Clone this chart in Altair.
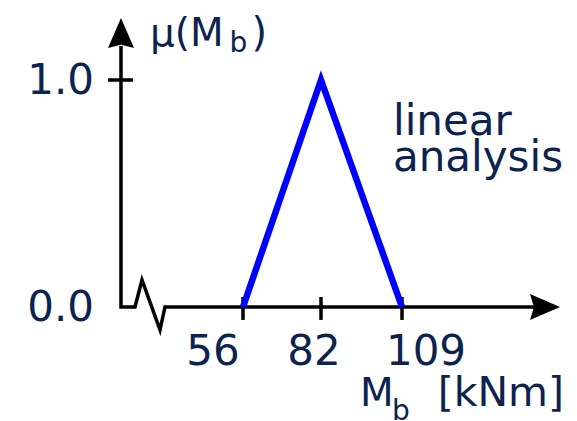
import altair as alt
import pandas as pd

# Triangular membership function of the bending moment M_b (linear analysis)
mb_values = [56, 82, 109]
mu_values = [0.0, 1.0, 0.0]

# Axis ticks and their labels
x_ticks = [56, 82, 109]
x_tick_labels = ["56", "82", "109"]
y_ticks = [1.0]
y_label_values = [0.0, 1.0]
y_tick_labels = ["0.0", "1.0"]

annotation_lines = ["linear", "analysis"]

NAVY = "#0c2350"
BLUE = "#0000ff"
FONT = "DejaVu Sans"

W, H = 577, 421
xs = alt.Scale(domain=[-25, 167.333], nice=False, zero=False)
ys = alt.Scale(domain=[-0.5022, 1.3524], nice=False, zero=False)

# Axis geometry (data units)
Y_AXIS_X = 15.33
X_AXIS_END = 153.0
Y_AXIS_TOP = 1.15


def X(field="x", **kw):
    return alt.X(field, type="quantitative", scale=xs, axis=None, **kw)


def Y(field="y", **kw):
    return alt.Y(field, type="quantitative", scale=ys, axis=None, **kw)


# Axes drawn as one polyline: y axis down to the origin, then the x axis
# with a break zig-zag near the origin
axis_df = pd.DataFrame({
    "x": [Y_AXIS_X, Y_AXIS_X, 20.0, 22.33, 28.33, 30.0, X_AXIS_END],
    "y": [Y_AXIS_TOP, 0.0, 0.0, 0.119, -0.101, 0.0, 0.0],
    "o": list(range(7)),
})
axis_line = alt.Chart(axis_df).mark_line(
    color="black", strokeWidth=3.5, strokeJoin="miter", strokeCap="butt"
).encode(x=X(), y=Y(), order="o:Q")

# Arrow heads
up_arrow_df = pd.DataFrame({
    "x": [Y_AXIS_X - 4.33, Y_AXIS_X, Y_AXIS_X + 4.33],
    "y": [1.141, 1.273, 1.141],
    "y2": [1.141, 1.155, 1.141],
})
up_arrow = alt.Chart(up_arrow_df).mark_area(color="black", interpolate="linear").encode(
    x=X(), y=Y(), y2="y2:Q"
)

right_arrow_df = pd.DataFrame({
    "y": [-0.057, 0.0, 0.057],
    "x": [151.67, 161.67, 151.67],
    "x2": [151.67, 153.0, 151.67],
})
right_arrow = alt.Chart(right_arrow_df).mark_area(
    color="black", interpolate="linear", orient="horizontal"
).encode(x=X(), x2="x2:Q", y=Y())

# Tick marks
x_tick_df = pd.DataFrame({"x": x_ticks, "y": [0.044] * len(x_ticks), "y2": [-0.057] * len(x_ticks)})
x_tick_marks = alt.Chart(x_tick_df).mark_rule(color="black", strokeWidth=3.5).encode(
    x=X(), y=Y(), y2="y2:Q"
)
y_tick_df = pd.DataFrame({"y": y_ticks, "x": [11.0] * len(y_ticks), "x2": [19.33] * len(y_ticks)})
y_tick_marks = alt.Chart(y_tick_df).mark_rule(color="black", strokeWidth=3.5).encode(
    x=X(), x2="x2:Q", y=Y()
)

# Membership function
mf_df = pd.DataFrame({"x": mb_values, "y": mu_values, "o": list(range(len(mb_values)))})
mf_line = alt.Chart(mf_df).mark_line(
    color=BLUE, strokeWidth=6.5, strokeJoin="miter", strokeCap="butt"
).encode(x=X(), y=Y(), order="o:Q")

# Y tick labels
y_lab_df = pd.DataFrame({"y": y_label_values, "t": y_tick_labels, "x": [Y_AXIS_X] * len(y_label_values)})
y_labels = alt.Chart(y_lab_df).mark_text(
    font=FONT, fontSize=42, color=NAVY, align="right", baseline="alphabetic", dx=-27, dy=14
).encode(x=X(), y=Y(), text="t:N")

# X tick labels, each nudged horizontally
label_nudge = {56: -30, 82: -7, 109: 24}
x_label_layers = []
for v, t in zip(x_ticks, x_tick_labels):
    d = pd.DataFrame({"x": [v], "y": [0.0], "t": [t]})
    x_label_layers.append(
        alt.Chart(d).mark_text(
            font=FONT, fontSize=42, color=NAVY, align="center", baseline="alphabetic",
            dx=label_nudge[v], dy=58
        ).encode(x=X(), y=Y(), text="t:N")
    )

# Annotation, one text per line
ann_df = pd.DataFrame({
    "x": [106.0] * len(annotation_lines),
    "y": [0.758 - 0.158 * i for i in range(len(annotation_lines))],
    "t": annotation_lines,
})
annotation = alt.Chart(ann_df).mark_text(
    font=FONT, fontSize=42, color=NAVY, align="left", baseline="alphabetic"
).encode(x=X(), y=Y(), text="t:N")


def text_layer(x, y, t, size, align="left"):
    d = pd.DataFrame({"x": [x], "y": [y], "t": [t]})
    return alt.Chart(d).mark_text(
        font=FONT, fontSize=size, color=NAVY, align=align, baseline="alphabetic"
    ).encode(x=X(), y=Y(), text="t:N")


# Axis titles with subscripts
y_title = [
    text_layer(25.0, 1.1498, "μ(M", 39),
    text_layer(51.5, 1.1233, "b", 28),
    text_layer(64.0, 1.1498, ")", 40, align="right"),
]
x_title = [
    text_layer(95.0, -0.4361, "M", 39),
    text_layer(105.67, -0.4978, "b", 28),
    text_layer(163.0, -0.4361, "[kNm]", 41, align="right"),
]

chart = alt.layer(
    axis_line, up_arrow, right_arrow, x_tick_marks, y_tick_marks, mf_line,
    y_labels, *x_label_layers, annotation, *y_title, *x_title,
).properties(
    width=W, height=H, autosize=alt.AutoSizeParams(type="none"), padding=0,
    background="white",
).configure_view(stroke=None)

chart.save("out.html", embed_options={"renderer": "svg", "actions": False})
